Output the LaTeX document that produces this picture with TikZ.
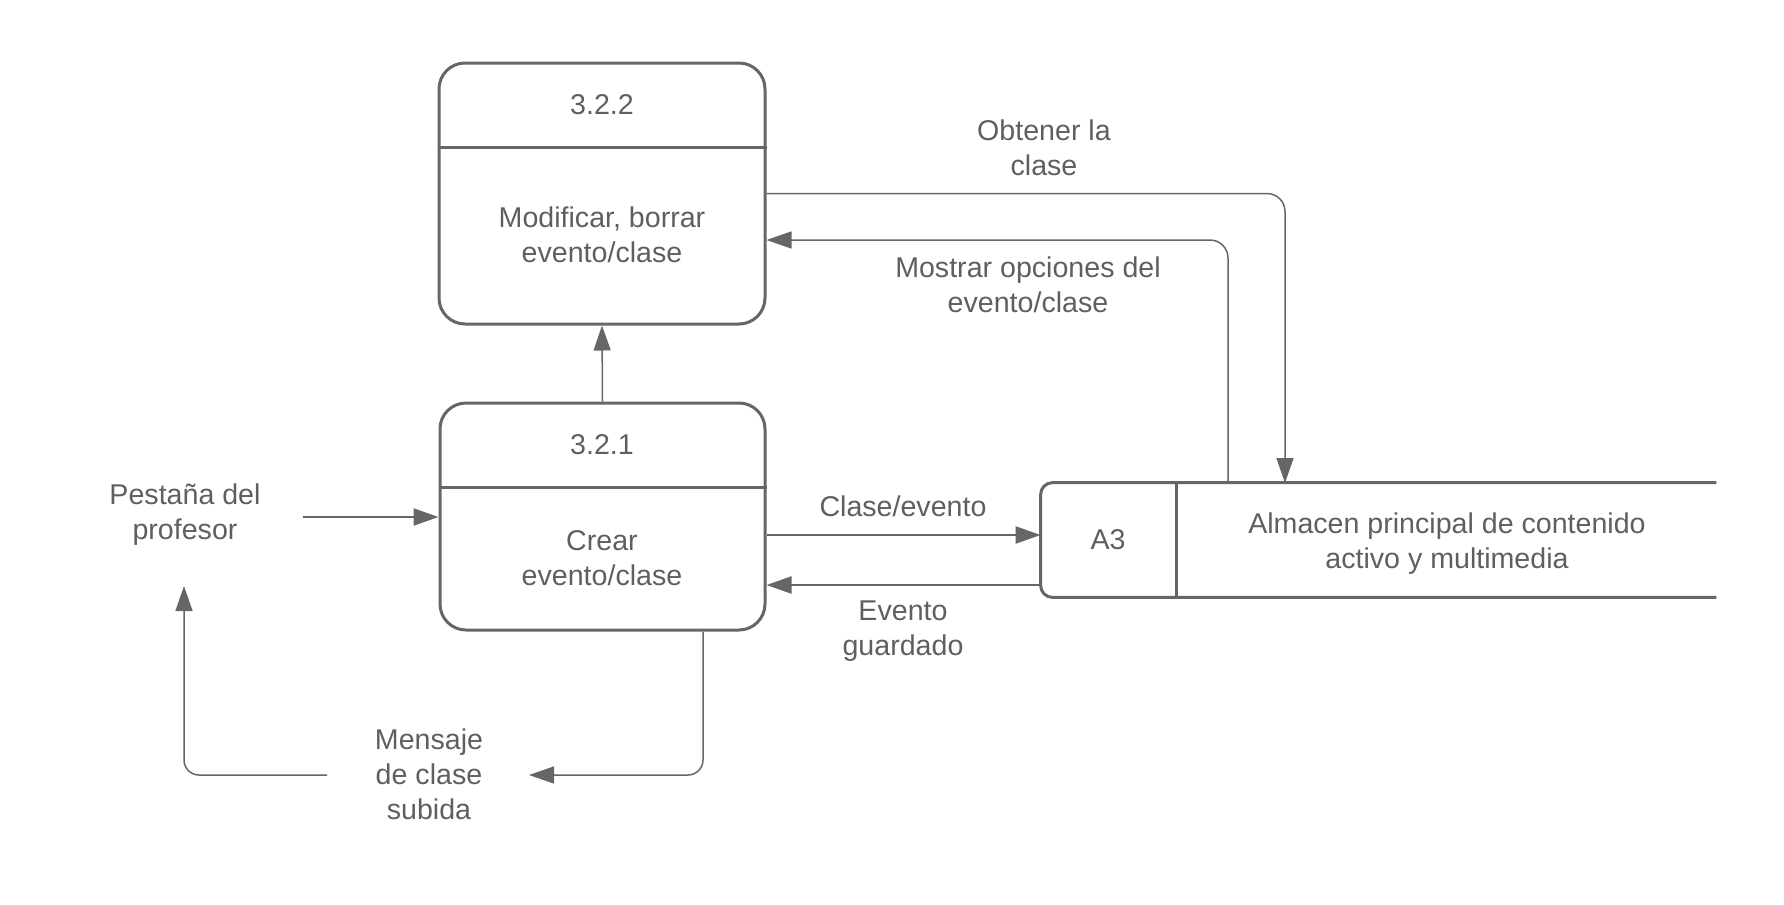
\documentclass[tikz,border=0pt]{standalone}
\usepackage{fontspec}
\setmainfont{Liberation Sans}
\usetikzlibrary{arrows.meta}
\definecolor{ln}{HTML}{666666}
\definecolor{tx}{HTML}{5F5F5F}
\begin{document}
\begin{tikzpicture}[x=0.5pt,y=-0.5pt,
  lbl/.style={text=tx,align=center,font=\fontsize{14.3pt}{17.5pt}\selectfont,inner sep=0pt},
  procbox/.style={draw=ln,line width=1.5pt,rounded corners=13pt,inner sep=0pt},
  tip/.style={-{Triangle[length=12.5pt,width=8.5pt]}},
  thinc/.style={draw=ln,line width=0.75pt},
  thickc/.style={draw=ln,line width=1.15pt}]
\useasboundingbox (0,0) rectangle (1784,905);
% process boxes
\node[procbox,minimum width=163pt,minimum height=130.5pt] (p322) at (602,193.5) {};
\node[procbox,minimum width=162.5pt,minimum height=113.5pt] (p321) at (602.5,516.5) {};
\draw[ln,line width=1.5pt] (p322.west |- 0,147) -- (p322.east |- 0,147);
\draw[ln,line width=1.5pt] (p321.west |- 0,487) -- (p321.east |- 0,487);
\node[lbl] (h322) at (602,105) {3.2.2};
\node[lbl] (b322) at (602,235) {Modificar, borrar\\evento/clase};
\node[lbl] (h321) at (602,445) {3.2.1};
\node[lbl] (b321) at (602,558.5) {Crear\\evento/clase};
% data store
\node[minimum width=337.5pt,minimum height=57pt,inner sep=0pt] (store) at (1378.5,540) {};
\draw[ln,line width=1.5pt,rounded corners=6pt] (store.north east) -- (store.north west) -- (store.south west) -- (store.south east);
\draw[ln,line width=1.5pt] (1176,483) -- (1176,597);
\node[lbl] (a3) at (1108,540) {A3};
\node[lbl] (sname) at (1447,543.5) {Almacen principal de contenido\\activo y multimedia};
% external entity
\node[lbl] (prof) at (185,514.5) {Pestaña del\\profesor};
% labels
\node[lbl] (lob) at (1044,148) {Obtener la\\clase};
\node[lbl] (lmo) at (1028,284.5) {Mostrar opciones del\\evento/clase};
\node[lbl] (lce) at (903,506) {Clase/evento};
\node[lbl] (leg) at (903,631.5) {Evento\\guardado};
\node[lbl] (lme) at (429,774) {Mensaje\\de clase\\subida};
% connectors
\coordinate (pa) at (303,517);
\draw[thickc,tip] (pa) -- (pa -| p321.west);
\draw[thinc,tip] (p321.north) -- (p322.south);
\draw[thinc,tip,rounded corners=9pt] (p322.east) -| (1285,483);
\draw[thinc,tip,rounded corners=9pt] (1228,483) |- (p322.east |- 0,240);
\draw[thickc,tip] (p321.east |- 0,535) -- (store.west |- 0,535);
\draw[thickc,tip] (store.west |- 0,585) -- (p321.east |- 0,585);
\coordinate (mr) at (529,775);
\coordinate (ml) at (327,775);
\draw[thinc,tip,rounded corners=7.5pt] (p321.south -| 703,0) |- (mr);
\draw[thinc,tip,rounded corners=7.5pt] (ml) -| (184,586);
\end{tikzpicture}
\end{document}
